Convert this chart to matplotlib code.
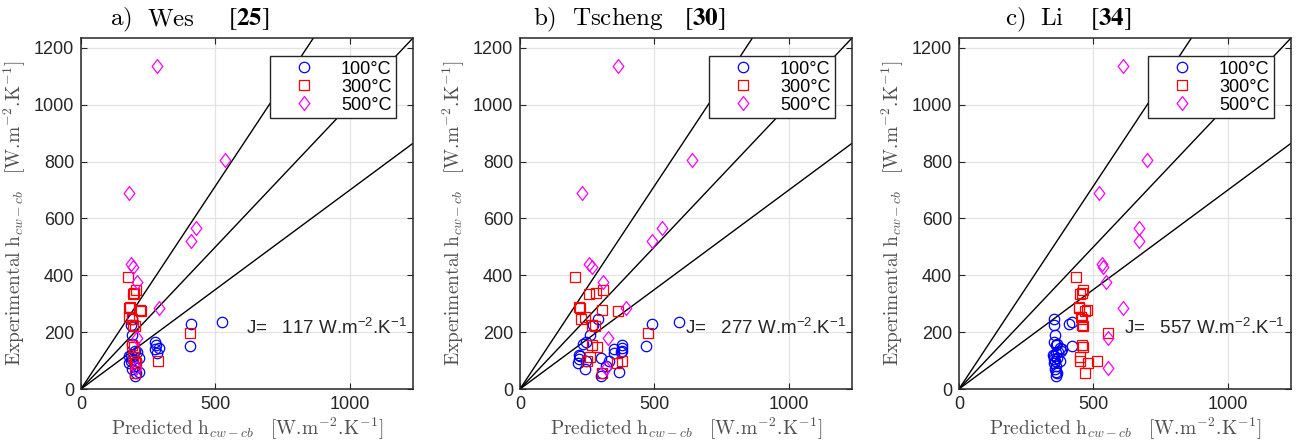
import matplotlib
matplotlib.use("Agg")
import matplotlib.pyplot as plt
from matplotlib.path import Path

plt.rcParams['mathtext.fontset'] = 'cm'
plt.rcParams['mathtext.rm'] = 'Liberation Sans'
plt.rcParams['font.family'] = ['Liberation Sans', 'DejaVu Sans']

# ---------------- data ----------------
panel_letters = ["a)", "b)", "c)"]
panel_names = ["Wes", "Tscheng", "Li"]
panel_refs = ["25", "30", "34"]
J_values = [117, 277, 557]
series_labels = ["100°C", "300°C", "500°C"]

# 100 C (circles): experimental values and predicted values per model
exp_100 = [235, 229, 152, 245, 225, 190, 165, 155, 145, 140, 130, 125, 120,
           115, 110, 105, 100, 90, 80, 70, 60, 55, 45, 135, 160, 100]
pred_100_wes = [523, 411, 405, 190, 185, 190, 275, 280, 292, 275, 210, 282, 185,
                180, 215, 190, 185, 180, 200, 190, 215, 205, 200, 200, 190, 205]
pred_100_tsc = [592, 490, 468, 291, 270, 262, 245, 380, 378, 350, 375, 350, 218,
                222, 300, 220, 245, 215, 320, 240, 370, 305, 300, 380, 235, 330]
pred_100_li = [419, 410, 420, 355, 355, 357, 353, 360, 375, 385, 370, 360, 350,
               352, 365, 355, 357, 352, 362, 358, 360, 363, 360, 380, 365, 375]

# 300 C (squares)
exp_300 = [393, 349, 339, 333, 288, 284, 277, 276, 255, 245, 225, 220, 197,
           155, 148, 112, 100, 100, 93, 58]
pred_300_wes = [173, 203, 198, 195, 182, 180, 219, 222, 178, 188, 195, 200, 405,
                190, 196, 195, 200, 287, 205, 200]
pred_300_tsc = [204, 310, 283, 257, 220, 222, 304, 366, 240, 226, 266, 279, 477,
                266, 287, 260, 250, 378, 359, 304]
pred_300_li = [435, 460, 456, 450, 447, 447, 475, 470, 455, 459, 459, 460, 553,
               459, 460, 450, 450, 514, 481, 468]

# 500 C (diamonds)
exp_500 = [1135, 805, 690, 565, 520, 440, 430, 375, 285, 180, 75]
pred_500_wes = [281, 535, 180, 427, 411, 186, 194, 207, 291, 207, 205]
pred_500_tsc = [365, 638, 232, 529, 490, 258, 268, 307, 394, 328, 320]
pred_500_li = [611, 701, 520, 670, 670, 533, 537, 546, 611, 553, 553]

pred_100 = [pred_100_wes, pred_100_tsc, pred_100_li]
pred_300 = [pred_300_wes, pred_300_tsc, pred_300_li]
pred_500 = [pred_500_wes, pred_500_tsc, pred_500_li]

ratios = [1 / 0.7, 1.0, 0.7]
lim = 1235

# ---------------- figure ----------------
fig = plt.figure(figsize=(13.04, 4.43), dpi=100)
lefts = [81, 520, 959]
W, H = 1304, 443

diamond = Path([(0, 1), (0.77, 0), (0, -1), (-0.77, 0), (0, 1)],
               [Path.MOVETO, Path.LINETO, Path.LINETO, Path.LINETO, Path.CLOSEPOLY])

# title piece positions (axes fraction)
title_pos = [(0.087, 0.199, 0.443), (0.039, 0.157, 0.494), (0.139, 0.244, 0.395)]

label_color = '#505050'
unit = r"[\mathrm{W}.\!\mathrm{m}^{-2}.\!\mathrm{K}^{-1}]"
for i in range(3):
    ax = fig.add_axes([lefts[i] / W, (H - 389) / H, 332 / W, 351 / H])
    ax.set_xlim(0, lim)
    ax.set_ylim(0, lim)
    ax.set_xticks([0, 500, 1000])
    ax.set_yticks([0, 200, 400, 600, 800, 1000, 1200])
    ax.grid(True, color='#e3e3e3', linewidth=0.9)
    ax.set_axisbelow(True)
    ax.tick_params(direction='in', length=4, width=0.8, labelsize=13,
                   colors='#262626', top=True, right=True, pad=5)
    for s in ax.spines.values():
        s.set_linewidth(1.1)
        s.set_color('#262626')

    for r in ratios:
        ax.plot([0, lim], [0, r * lim], color='black', linewidth=1.0, zorder=2)

    ax.plot(pred_100[i], exp_100, linestyle='none', marker='o', markersize=7.5,
            markerfacecolor='none', markeredgecolor=(0, 0, 1), markeredgewidth=0.9,
            label=series_labels[0], zorder=3)
    ax.plot(pred_300[i], exp_300, linestyle='none', marker='s', markersize=6.5,
            markerfacecolor='none', markeredgecolor=(1, 0, 0), markeredgewidth=0.9,
            label=series_labels[1], zorder=3)
    ax.plot(pred_500[i], exp_500, linestyle='none', marker=diamond, markersize=10,
            markerfacecolor='none', markeredgecolor=(1, 0, 1), markeredgewidth=0.9,
            label=series_labels[2], zorder=3)

    leg = ax.legend(loc='upper right', bbox_to_anchor=(0.949, 0.948),
                    borderaxespad=0, fontsize=13, handlelength=3.3,
                    handletextpad=0.4, labelspacing=0.05, borderpad=0.25,
                    fancybox=False, framealpha=1, edgecolor='#262626')
    leg.get_frame().set_linewidth(1.0)

    ax.text(615, 195, "J=   %d W.m$^{-2}$.K$^{-1}$" % J_values[i], fontsize=13.5,
            color='#262626', math_fontfamily='custom', zorder=4)

    ax.set_xlabel(r"$\mathrm{Predicted\ h}_{cw-cb}\quad " + unit + "$",
                  fontsize=14, color=label_color, labelpad=2)
    ax.set_ylabel(r"$\mathrm{Experimental\ h}_{cw-cb}\quad " + unit + "$",
                  fontsize=14, color=label_color, labelpad=4)

    p = title_pos[i]
    ty = 1.037
    ax.text(p[0], ty, r"$\mathrm{%s}$" % panel_letters[i], transform=ax.transAxes,
            fontsize=18, va='baseline', ha='left')
    ax.text(p[1], ty, r"$\mathrm{%s}$" % panel_names[i], transform=ax.transAxes,
            fontsize=18, va='baseline', ha='left')
    ax.text(p[2], ty, r"$[\mathbf{%s}]$" % panel_refs[i], transform=ax.transAxes,
            fontsize=18, va='baseline', ha='left', math_fontfamily='stix')

fig.savefig("out.png", dpi=100)
